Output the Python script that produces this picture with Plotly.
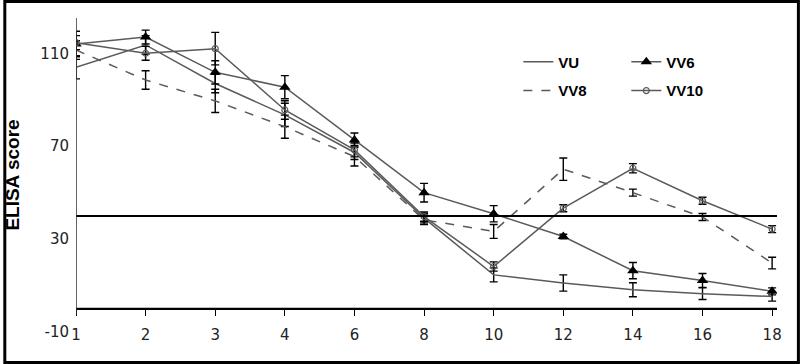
import plotly.graph_objects as go

# Data
days = ["1", "2", "3", "4", "6", "8", "10", "12", "14", "16", "18"]
vu = [104, 113.6, 97, 83.5, 67.3, 39, 14.6, 11.1, 8.2, 6.5, 5.3]
vu_err = [5, 4, 4, 5, 3, 2, 3, 3.5, 3, 2.5, 2]
vv6 = [114, 117, 101.8, 95.4, 72.7, 50, 40.9, 31.1, 16.4, 12.2, 7.5]
vv6_err = [5.5, 3, 5, 5, 3, 4, 3.5, 1, 3.5, 3, 1.5]
vv8 = [111.4, 98.5, 89.5, 78.4, 65.5, 38.3, 33.3, 60.1, 50, 39.5, 19.7]
vv8_err = [4, 4, 5, 5, 4, 2, 3, 4.8, 1.5, 1.5, 2.5]
vv10 = [114.6, 110, 112, 85.6, 68.4, 39.7, 18.2, 43.3, 60.5, 46.5, 34.3]
vv10_err = [3, 3, 7, 4, 3, 2, 2, 1.5, 2, 1.5, 1.5]
cutoff = 40
y_ticks = [110, 70, 30, -10]
y_ticktext = ["110", "70", "30", "-10"]

xpos = list(range(len(days)))
line_col = "#5a5a5a"
err = lambda a: dict(type="data", array=a, color="black", thickness=1.4, width=4)

fig = go.Figure()
fig.add_trace(go.Scatter(x=xpos, y=vu, name="VU", mode="lines",
                         line=dict(color=line_col, width=1.5),
                         error_y=err(vu_err), legend="legend"))
fig.add_trace(go.Scatter(x=xpos, y=vv6, name="VV6", mode="lines+markers",
                         line=dict(color=line_col, width=1.5),
                         marker=dict(symbol="triangle-up", size=10, color="black"),
                         error_y=err(vv6_err), legend="legend"))
fig.add_trace(go.Scatter(x=xpos, y=vv8, name="VV8", mode="lines",
                         line=dict(color=line_col, width=1.5, dash="dash"),
                         error_y=err(vv8_err), legend="legend2"))
fig.add_trace(go.Scatter(x=xpos, y=vv10, name="VV10", mode="lines+markers",
                         line=dict(color=line_col, width=1.5),
                         marker=dict(symbol="circle-open", size=6, color=line_col, line=dict(width=1.2)),
                         error_y=err(vv10_err), legend="legend2"))

ymin, ymax = -10, 125.2
xmin, xmax = 0, 10.07

shapes = [
    dict(type="line", xref="x", yref="y", x0=xmin, x1=xmax, y0=cutoff, y1=cutoff,
         line=dict(color="black", width=2)),
    dict(type="line", xref="x", yref="y", x0=xmin, x1=xmax, y0=0, y1=0,
         line=dict(color="black", width=2.2)),
    dict(type="line", xref="x", yref="y", x0=0, x1=0, y0=-2.5, y1=ymax,
         line=dict(color="#333333", width=1.5)),
]
W, H = 800, 364
ml, mr, mt, mb = 73, 23, 18, 32
pw, ph = W - ml - mr, H - mt - mb
shapes.append(dict(type="rect", xref="paper", yref="paper",
                   x0=(-ml + 1.5) / pw, x1=1 + (mr - 1.5) / pw,
                   y0=(-mb + 1.5) / ph, y1=1 + (mt - 1.5) / ph,
                   line=dict(color="black", width=3), fillcolor="rgba(0,0,0,0)", layer="below"))

legend_font = dict(family="Liberation Sans", size=15, color="black", weight="bold")
fig.update_layout(
    width=W, height=H,
    margin=dict(l=ml, r=mr, t=mt, b=mb),
    paper_bgcolor="white", plot_bgcolor="white",
    font=dict(family="DejaVu Sans", size=15, color="#222"),
    shapes=shapes,
    xaxis=dict(range=[xmin, xmax], tickvals=xpos, ticktext=days,
               showgrid=False, zeroline=False, showline=False,
               ticks="outside", ticklen=6, tickcolor="black", tickwidth=1.2,
               anchor="free", position=(0 - ymin) / (ymax - ymin),
               ticklabelstandoff=6,
               tickfont=dict(family="DejaVu Sans", size=15, color="#222")),
    yaxis=dict(range=[ymin, ymax], tickvals=y_ticks, ticktext=y_ticktext,
               showgrid=False, zeroline=False,
               showline=False, ticks="", ticklabelstandoff=6,
               tickfont=dict(family="DejaVu Sans", size=15, color="#222"),
               title=dict(text="ELISA score", standoff=15,
                          font=dict(family="Liberation Sans", size=19, color="black", weight="bold"))),
    legend=dict(orientation="h", x=0.631, y=0.860, xanchor="left", yanchor="middle",
                entrywidth=63, bgcolor="rgba(0,0,0,0)", font=legend_font),
    legend2=dict(orientation="h", x=0.631, y=0.768, xanchor="left", yanchor="middle",
                 entrywidth=63, bgcolor="rgba(0,0,0,0)", font=legend_font),
    showlegend=True,
)

fig.write_html("out.html", config={"displayModeBar": False},
               post_script="document.body.style.margin='0';document.body.style.overflow='hidden';")
